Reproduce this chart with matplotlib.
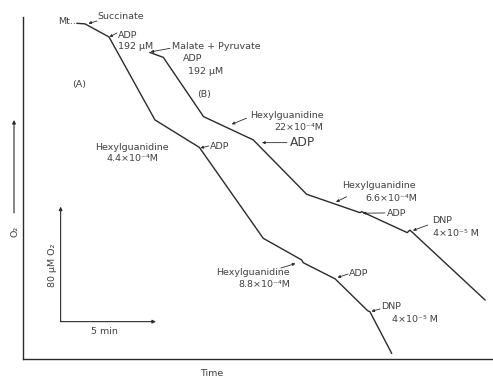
import matplotlib.pyplot as plt
from matplotlib import font_manager
from matplotlib.patches import FancyArrowPatch

# Oxygen electrode traces, time in min and O2 in uM above the baseline.
trace_a_t = [2.85, 3.27, 4.53, 6.94, 9.27, 12.62, 14.64, 14.72, 16.40, 18.10, 18.22, 19.36]
trace_a_o2 = [233.7, 233.3, 224.2, 166.5, 147.4, 84.2, 69.1, 67.2, 55.9, 33.8, 33.1, 4.2]

trace_b_t = [6.68, 7.38, 9.49, 12.10, 14.90, 17.70, 17.79, 20.18, 20.32, 24.26]
trace_b_o2 = [213.4, 210.0, 168.8, 152.6, 114.8, 102.0, 102.7, 88.1, 89.9, 41.3]

# Scale bar: 5 min across, 80 uM O2 up.
scale_t = 5
scale_o2 = 80
scale_origin = (1.99, 26.2)

# (text, text position, arrow tail, arrow head, size factor)
labels = [
    ("Succinate", (3.93, 238.1), (3.90, 235.3), (3.45, 233.6), 1.0),
    ("ADP\n192 µM", (5.00, 221.5), (4.95, 227.0), (4.55, 224.2), 1.0),
    ("Malate + Pyruvate", (7.82, 217.5), (7.73, 216.3), (6.71, 213.8), 1.0),
    ("Hexylguanidine", (11.93, 169.9), (11.75, 167.7), (10.97, 163.5), 1.0),
    ("ADP", (14.02, 150.7), (13.87, 150.7), (12.56, 150.7), 1.3),
    ("ADP", (9.83, 147.9), (9.77, 148.4), (9.33, 147.0), 1.0),
    ("Hexylguanidine", (16.74, 120.6), (17.00, 113.1), (16.44, 109.4), 1.0),
    ("ADP", (19.10, 101.6), (19.01, 101.8), (17.85, 101.6), 1.0),
    ("DNP", (21.51, 96.4), (21.26, 93.4), (20.48, 89.6), 1.0),
    ("Hexylguanidine", (10.14, 60.2), (13.55, 63.5), (14.31, 66.6), 1.0),
    ("ADP", (17.14, 59.8), (17.07, 59.3), (16.52, 56.9), 1.0),
    ("DNP", (18.83, 36.6), (18.75, 35.0), (18.30, 33.3), 1.0),
]

# Free text without arrows: (text, position, ha)
notes = [
    ("Mt..", (2.80, 234.9), "right"),
    ("ADP", (8.39, 208.9), "left"),
    ("192 µM", (8.67, 200.1), "left"),
    ("(A)", (2.95, 190.8), "center"),
    ("(B)", (9.51, 183.9), "center"),
    ("22×10⁻⁴M", (13.18, 160.9), "left"),
    ("Hexylguanidine\n4.4×10⁻⁴M", (5.75, 143.5), "center"),
    ("6.6×10⁻⁴M", (17.96, 111.5), "left"),
    ("4×10⁻⁵ M", (21.54, 87.7), "left"),
    ("8.8×10⁻⁴M", (11.31, 51.7), "left"),
    ("4×10⁻⁵ M", (19.36, 27.8), "left"),
]

INK = "#2b2b2b"
TXT = "#404040"

available = {f.name for f in font_manager.fontManager.ttflist}
if "Liberation Sans Narrow" in available:
    FONT, FS = "Liberation Sans Narrow", 8.0
elif "DejaVu Sans Condensed" in available:
    FONT, FS = "DejaVu Sans Condensed", 7.2
else:
    FONT, FS = "DejaVu Sans", 6.8
plt.rcParams["font.family"] = [FONT, "DejaVu Sans"]

fig = plt.figure(figsize=(4.93, 3.77), dpi=100)
ax = fig.add_axes([22.7 / 493, 17.7 / 377, 470.3 / 493, 342.6 / 377])
ax.set_xlim(0, 24.68)
ax.set_ylim(0, 238.3)
for side in ("top", "right"):
    ax.spines[side].set_visible(False)
for side in ("left", "bottom"):
    ax.spines[side].set_color(INK)
    ax.spines[side].set_linewidth(1.0)
ax.set_xticks([])
ax.set_yticks([])

ax.plot(trace_a_t, trace_a_o2, color=INK, lw=1.0)
ax.plot(trace_b_t, trace_b_o2, color=INK, lw=1.0)

arrow = dict(arrowstyle="-|>", lw=0.6, color=INK, shrinkA=0, shrinkB=0,
             mutation_scale=4)
for text, pos, tail, head, k in labels:
    ax.annotate("", xy=head, xytext=tail, arrowprops=arrow)
    ax.text(pos[0], pos[1], text, fontsize=FS * k, color=TXT, ha="left",
            va="center", linespacing=1.2)
for text, pos, ha in notes:
    ax.text(pos[0], pos[1], text, fontsize=FS, color=TXT, ha=ha,
            va="center", linespacing=1.2)

# scale bar
x0, y0 = scale_origin
bar = dict(arrowstyle="-|>", lw=0.8, color=INK, shrinkA=0, shrinkB=0,
           mutation_scale=5)
ax.annotate("", xy=(x0 + scale_t, y0), xytext=(x0, y0), arrowprops=bar)
ax.annotate("", xy=(x0, y0 + scale_o2), xytext=(x0, y0), arrowprops=bar)
ax.text(x0 + scale_t / 2 - 0.2, y0 - 7, f"{scale_t} min", fontsize=FS,
        color=TXT, ha="center", va="center")
ax.text(x0 - 0.42, y0 + scale_o2 / 2 - 1, f"{scale_o2} µM O₂", fontsize=FS,
        color=TXT, ha="center", va="center", rotation=90)

# axis labels outside the frame
fig.add_artist(FancyArrowPatch((14 / 493, 1 - 213 / 377), (14 / 493, 1 - 120 / 377),
                               transform=fig.transFigure, arrowstyle="-|>",
                               mutation_scale=5, lw=0.8, color=INK,
                               shrinkA=0, shrinkB=0))
fig.text(15 / 493, 1 - 231 / 377, "O₂", fontsize=FS, color=TXT, ha="center",
         va="center", rotation=90)
fig.text(211.7 / 493, 1 - 373 / 377, "Time", fontsize=FS, color=TXT,
         ha="center", va="center")

fig.savefig("out.png", dpi=100)
